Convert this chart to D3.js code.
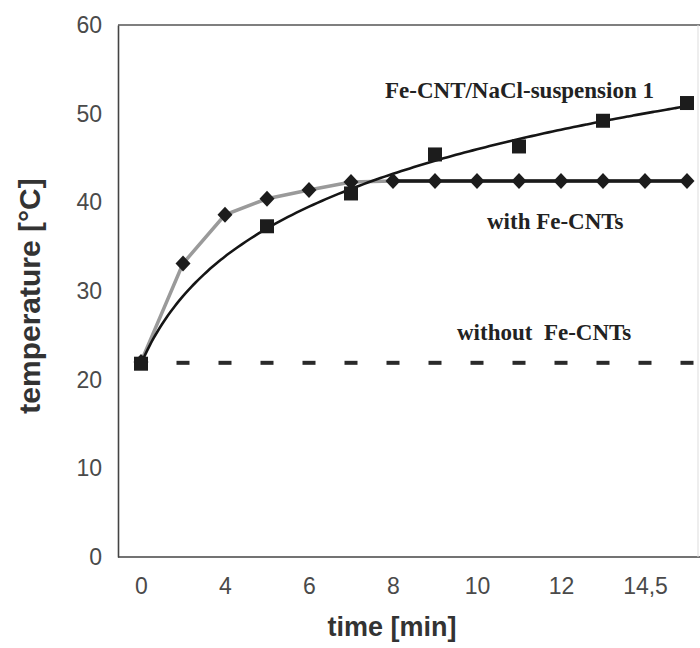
<!DOCTYPE html>
<html>
<head>
<meta charset="utf-8">
<script src="https://cdn.jsdelivr.net/npm/d3@7"></script>
<style>
body { margin: 0; background: #fff; }
.tick text { font-family: "Liberation Sans", Arial, sans-serif; fill: #4a4a4a; }
</style>
</head>
<body>
<div id="chart"></div>
<script>
// categories on the time axis (only every other one is labelled)
var times = ["0", "2", "4", "5", "6", "7", "8", "9", "10", "11", "12", "13", "14,5", "16"];
var tickTimes = ["0", "4", "6", "8", "10", "12", "14,5"];
var yTicks = [0, 10, 20, 30, 40, 50, 60];

// with Fe-CNTs (diamonds)
var withFe = [22.0, 33.1, 38.6, 40.4, 41.4, 42.3, 42.4, 42.4, 42.4, 42.4, 42.4, 42.4, 42.4, 42.4];

// Fe-CNT/NaCl-suspension 1 (squares)
var suspTimes = ["0", "5", "7", "9", "11", "13", "16"];
var suspension = [21.8, 37.3, 41.0, 45.4, 46.3, 49.2, 51.2];

// without Fe-CNTs (dashes)
var withoutTimes = ["2", "4", "5", "6", "7", "8", "9", "10", "11", "12", "13", "14,5", "16"];
var withoutFe = [21.9, 21.9, 21.9, 21.9, 21.9, 21.9, 21.9, 21.9, 21.9, 21.9, 21.9, 21.9, 21.9];

var width = 700, height = 648;

var svg = d3.select("#chart")
    .append("svg")
    .attr("width", width)
    .attr("height", height);

var x = d3.scalePoint()
    .domain(times)
    .range([141, 687]);

// continuous category position, used for the trendline
var xi = d3.scaleLinear()
    .domain([0, times.length - 1])
    .range(x.range());

var y = d3.scaleLinear()
    .domain([0, 60])
    .range([557, 25]);

// frame
svg.append("line").attr("x1", 118).attr("x2", 700).attr("y1", 25).attr("y2", 25)
    .attr("stroke", "#555").attr("stroke-width", 1.3);
svg.append("line").attr("x1", 118).attr("x2", 700).attr("y1", 557).attr("y2", 557)
    .attr("stroke", "#444").attr("stroke-width", 1.6);
svg.append("line").attr("x1", 698).attr("x2", 698).attr("y1", 25).attr("y2", 557)
    .attr("stroke", "#ddd").attr("stroke-width", 1);

// Y axis
var yAxis = svg.append("g")
    .attr("transform", "translate(118,0)")
    .call(d3.axisLeft(y).tickValues(yTicks).tickSize(0).tickSizeOuter(0).tickPadding(16));
yAxis.select(".domain").attr("stroke", "#444").attr("stroke-width", 1.6);
yAxis.selectAll("text").style("font-size", "23px");

// X axis
var xAxis = svg.append("g")
    .attr("transform", "translate(0,557)")
    .call(d3.axisBottom(x).tickValues(tickTimes).tickSize(0).tickPadding(21));
xAxis.select(".domain").remove();
xAxis.selectAll("text").style("font-size", "23px");

// axis titles
svg.append("text")
    .attr("x", 392)
    .attr("y", 636)
    .attr("text-anchor", "middle")
    .style("font-family", "Liberation Sans, Arial, sans-serif")
    .style("font-weight", "bold")
    .style("font-size", "27px")
    .style("fill", "#333")
    .text("time [min]");

svg.append("text")
    .attr("transform", "translate(40,296) rotate(-90)")
    .attr("text-anchor", "middle")
    .style("font-family", "Liberation Sans, Arial, sans-serif")
    .style("font-weight", "bold")
    .style("font-size", "30px")
    .style("fill", "#333")
    .text("temperature [°C]");

// with Fe-CNTs: grey connecting line, black where it levels off
var withData = times.map(function (t, i) { return { t: t, v: withFe[i], i: i }; });
var line = d3.line()
    .x(function (d) { return x(d.t); })
    .y(function (d) { return y(d.v); });

svg.append("path")
    .datum(withData)
    .attr("fill", "none")
    .attr("stroke", "#9a9a9a")
    .attr("stroke-width", 3.5)
    .attr("d", line);

svg.append("path")
    .datum(withData.filter(function (d) { return d.i >= 6; }))
    .attr("fill", "none")
    .attr("stroke", "#1a1a1a")
    .attr("stroke-width", 3.5)
    .attr("d", line);

// suspension: logarithmic trendline (least squares on ln(category number))
var suspData = suspTimes.map(function (t, i) { return { t: t, v: suspension[i] }; });
var lx = suspData.map(function (d) { return Math.log(times.indexOf(d.t) + 1); });
var mx = d3.mean(lx), my = d3.mean(suspension);
var b = d3.sum(lx, function (v, i) { return (v - mx) * (suspension[i] - my); }) /
        d3.sum(lx, function (v) { return (v - mx) * (v - mx); });
var a = my - b * mx;
var trend = d3.range(0, times.length - 1 + 0.001, 0.1).map(function (k) {
    return { k: k, v: a + b * Math.log(k + 1) };
});
svg.append("path")
    .datum(trend)
    .attr("fill", "none")
    .attr("stroke", "#151515")
    .attr("stroke-width", 2.6)
    .attr("d", d3.line()
        .curve(d3.curveBasis)
        .x(function (d) { return xi(d.k); })
        .y(function (d) { return y(d.v); }));

// without Fe-CNTs dashes
var withoutData = withoutTimes.map(function (t, i) { return { t: t, v: withoutFe[i] }; });
svg.selectAll(".dash")
    .data(withoutData)
    .enter()
    .append("rect")
    .attr("class", "dash")
    .attr("x", function (d) { return x(d.t) - 6.5; })
    .attr("y", function (d) { return y(d.v) - 2; })
    .attr("width", 13)
    .attr("height", 4)
    .attr("fill", "#2a2a2a");

// diamonds
svg.selectAll(".diamond")
    .data(withData)
    .enter()
    .append("path")
    .attr("class", "diamond")
    .attr("transform", function (d) { return "translate(" + x(d.t) + "," + y(d.v) + ")"; })
    .attr("d", "M0,-8L7.5,0L0,8L-7.5,0Z")
    .attr("fill", "#1c1c1c");

// squares
svg.selectAll(".square")
    .data(suspData)
    .enter()
    .append("rect")
    .attr("class", "square")
    .attr("x", function (d) { return x(d.t) - 7; })
    .attr("y", function (d) { return y(d.v) - 7; })
    .attr("width", 14)
    .attr("height", 14)
    .attr("fill", "#1c1c1c");

// series labels
var labels = [
    { text: "Fe-CNT/NaCl-suspension 1", x: 385, y: 98 },
    { text: "with Fe-CNTs", x: 487, y: 229 },
    { text: "without\u00a0\u00a0Fe-CNTs", x: 457, y: 340 }
];
svg.selectAll(".lbl")
    .data(labels)
    .enter()
    .append("text")
    .attr("class", "lbl")
    .attr("x", function (d) { return d.x; })
    .attr("y", function (d) { return d.y; })
    .style("font-family", "Liberation Serif, Times New Roman, serif")
    .style("font-weight", "bold")
    .style("font-size", "23px")
    .style("fill", "#222")
    .text(function (d) { return d.text; });
</script>
</body>
</html>
